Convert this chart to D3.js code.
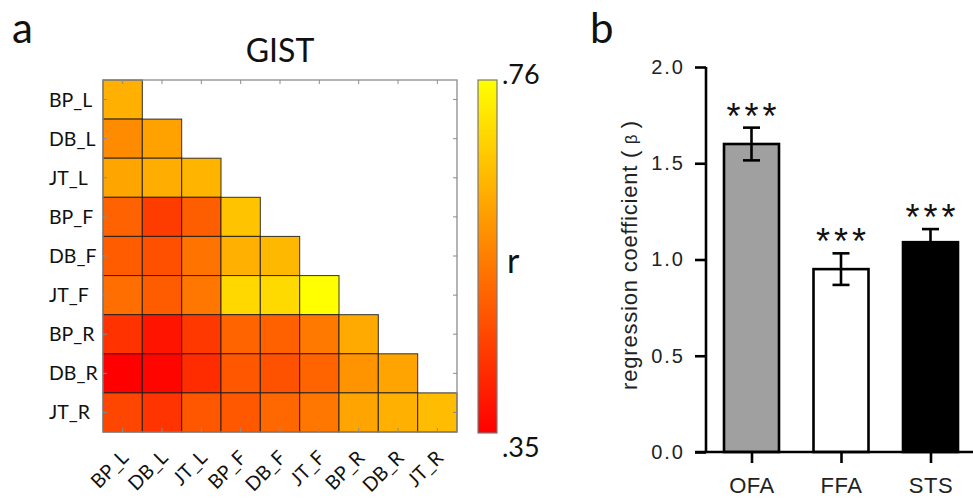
<!DOCTYPE html>
<html>
<head>
<meta charset="utf-8">
<script src="https://cdn.jsdelivr.net/npm/d3@7/dist/d3.min.js"></script>
<style>
  html, body { margin: 0; padding: 0; background: #fff; }
  svg { display: block; }
</style>
</head>
<body>
<svg id="fig" width="973" height="500"></svg>
<script>
// ---- Panel a: GIST similarity matrix (lower triangle, Pearson r) ----
const regions = ["BP_L", "DB_L", "JT_L", "BP_F", "DB_F", "JT_F", "BP_R", "DB_R", "JT_R"];
const gistRows = [
  [0.633],
  [0.575, 0.610],
  [0.615, 0.628, 0.639],
  [0.508, 0.446, 0.501, 0.664],
  [0.498, 0.479, 0.537, 0.633, 0.646],
  [0.527, 0.498, 0.540, 0.697, 0.701, 0.760],
  [0.430, 0.382, 0.440, 0.511, 0.504, 0.543, 0.623],
  [0.350, 0.358, 0.421, 0.488, 0.482, 0.511, 0.588, 0.614],
  [0.463, 0.434, 0.488, 0.491, 0.517, 0.540, 0.614, 0.633, 0.652]
];
const rRange = [0.35, 0.76];
const rTickLabels = [".35", ".76"];

// ---- Panel b: regression coefficients ----
const areas = ["OFA", "FFA", "STS"];
const beta = [1.60, 0.95, 1.09];
const betaSE = [0.085, 0.082, 0.068];
const betaStars = ["***", "***", "***"];
const betaTicks = [0, 0.5, 1.0, 1.5, 2.0];

const svg = d3.select("#fig");
const calib = "Lato, 'Open Sans', sans-serif";
const helv = "'Liberation Sans', Arial, sans-serif";

// ================= Panel a =================
const hm = { x0: 103, x1: 457, y0: 80, y1: 432 };
const x = d3.scaleBand().domain(regions).range([hm.x0, hm.x1]);
const y = d3.scaleBand().domain(regions).range([hm.y0, hm.y1]);
const color = d3.scaleSequential(d3.interpolateRgb("#ff0000", "#ffff00")).domain(rRange);

svg.append("text").attr("x", 12).attr("y", 43)
  .attr("font-family", calib).attr("font-size", 42).attr("fill", "#111").text("a");

svg.append("text").attr("x", (hm.x0 + hm.x1) / 2).attr("y", 62)
  .attr("text-anchor", "middle").attr("font-family", calib).attr("font-size", 32)
  .attr("fill", "#111").text("GIST");

const cells = [];
gistRows.forEach((row, i) => row.forEach((v, j) => cells.push({ r: regions[i], c: regions[j], v })));

const gA = svg.append("g");
gA.selectAll("rect.cell").data(cells).join("rect")
  .attr("class", "cell")
  .attr("x", d => x(d.c)).attr("y", d => y(d.r))
  .attr("width", x.bandwidth()).attr("height", y.bandwidth())
  .attr("fill", d => color(d.v))
  .attr("stroke", "#1a1a1a").attr("stroke-opacity", 0.8).attr("stroke-width", 1.1);

// frame with inward ticks at each cell centre
gA.append("rect").attr("x", hm.x0).attr("y", hm.y0)
  .attr("width", hm.x1 - hm.x0).attr("height", hm.y1 - hm.y0)
  .attr("fill", "none").attr("stroke", "#8c8c8c").attr("stroke-width", 1.3);
const tl = 4;
regions.forEach(n => {
  const cx = x(n) + x.bandwidth() / 2, cy = y(n) + y.bandwidth() / 2;
  [[cx, hm.y0, cx, hm.y0 + tl], [cx, hm.y1, cx, hm.y1 - tl],
   [hm.x0, cy, hm.x0 + tl, cy], [hm.x1, cy, hm.x1 - tl, cy]].forEach(s =>
    gA.append("line").attr("x1", s[0]).attr("y1", s[1]).attr("x2", s[2]).attr("y2", s[3])
      .attr("stroke", "#8c8c8c").attr("stroke-width", 1));
});

// row labels
gA.selectAll("text.row").data(regions).join("text")
  .attr("class", "row")
  .attr("x", 49).attr("y", d => y(d) + y.bandwidth() / 2)
  .attr("dy", "0.36em")
  .attr("font-family", calib).attr("font-size", 19.5).attr("fill", "#111")
  .text(d => d);

// column labels, rotated
gA.selectAll("text.col").data(regions).join("text")
  .attr("class", "col")
  .attr("text-anchor", "end")
  .attr("transform", d => `translate(${x(d) + x.bandwidth() / 2 + 7},${hm.y1 + 27}) rotate(-45)`)
  .attr("font-family", calib).attr("font-size", 19.5).attr("fill", "#111")
  .text(d => d);

// colour bar
const cb = { x: 478, w: 19, y0: 80, y1: 433 };
const defs = svg.append("defs");
const grad = defs.append("linearGradient").attr("id", "autumn")
  .attr("x1", 0).attr("y1", 1).attr("x2", 0).attr("y2", 0);
d3.range(0, 1.0001, 0.1).forEach(t => {
  const v = rRange[0] + t * (rRange[1] - rRange[0]);
  grad.append("stop").attr("offset", t).attr("stop-color", color(v));
});
svg.append("rect").attr("x", cb.x).attr("y", cb.y0).attr("width", cb.w).attr("height", cb.y1 - cb.y0)
  .attr("fill", "url(#autumn)").attr("stroke", "#7a7a7a").attr("stroke-width", 1.2);
svg.append("text").attr("x", 502).attr("y", 84)
  .attr("font-family", calib).attr("font-size", 27).attr("fill", "#111").text(rTickLabels[1]);
svg.append("text").attr("x", 502).attr("y", 457)
  .attr("font-family", calib).attr("font-size", 27).attr("fill", "#111").text(rTickLabels[0]);
svg.append("text").attr("x", 507).attr("y", 273)
  .attr("font-family", calib).attr("font-size", 34).attr("fill", "#111").text("r");

// ================= Panel b =================
svg.append("text").attr("x", 590).attr("y", 43)
  .attr("font-family", calib).attr("font-size", 42).attr("fill", "#111").text("b");

const yb = d3.scaleLinear().domain([0, 2]).range([452, 67]);
const xb = d3.scalePoint().domain(areas).range([751.5, 930.5]);
const barW = 55;
const axisX = 706;
const gB = svg.append("g");

const bars = areas.map((a, i) => ({ a, v: beta[i], e: betaSE[i], s: betaStars[i] }));
const fills = ["#a0a0a0", "#ffffff", "#000000"];

gB.selectAll("rect.bar").data(bars).join("rect")
  .attr("class", "bar")
  .attr("x", d => xb(d.a) - barW / 2).attr("y", d => yb(d.v))
  .attr("width", barW).attr("height", d => yb(0) - yb(d.v))
  .attr("fill", (d, i) => fills[i]).attr("stroke", "#000").attr("stroke-width", 2.6);

// error bars
const cap = 17;
bars.forEach(d => {
  const cx = xb(d.a);
  const g = gB.append("g").attr("stroke", "#000").attr("stroke-width", 2.6);
  g.append("line").attr("x1", cx).attr("x2", cx).attr("y1", yb(d.v + d.e)).attr("y2", yb(d.v - d.e));
  g.append("line").attr("x1", cx - cap / 2).attr("x2", cx + cap / 2).attr("y1", yb(d.v + d.e)).attr("y2", yb(d.v + d.e));
  g.append("line").attr("x1", cx - cap / 2).attr("x2", cx + cap / 2).attr("y1", yb(d.v - d.e)).attr("y2", yb(d.v - d.e));
});

// significance stars
gB.selectAll("text.star").data(bars).join("text")
  .attr("class", "star")
  .attr("x", d => xb(d.a) + 2).attr("y", d => yb(d.v + d.e) + 1)
  .attr("text-anchor", "middle")
  .attr("font-family", helv).attr("font-size", 36).attr("letter-spacing", 4)
  .attr("fill", "#111").text(d => d.s);

// y axis
const yAxis = d3.axisLeft(yb).tickValues(betaTicks).tickFormat(d3.format(".1f")).tickSize(11).tickPadding(10);
const gy = gB.append("g").attr("transform", `translate(${axisX},0)`).call(yAxis);
gy.select(".domain").attr("stroke", "#000").attr("stroke-width", 2.6).attr("d", `M0,${yb(2)}V${yb(0)}`);
gy.selectAll(".tick line").attr("stroke", "#000").attr("stroke-width", 2.6);
gy.selectAll(".tick text").attr("font-family", helv).attr("font-size", 20).attr("letter-spacing", 2)
  .attr("fill", "#222");

// x axis
const xAxis = d3.axisBottom(xb).tickSize(11).tickPadding(14);
const gx = gB.append("g").attr("transform", `translate(0,${yb(0)})`).call(xAxis);
gx.select(".domain").attr("stroke", "#000").attr("stroke-width", 2.6).attr("d", `M${axisX - 11},0H973`);
gx.selectAll(".tick line").attr("stroke", "#000").attr("stroke-width", 2.6);
gx.selectAll(".tick text").attr("font-family", helv).attr("font-size", 22).attr("letter-spacing", 0.5)
  .attr("fill", "#222");

// y axis title
const yt = gB.append("text")
  .attr("transform", `translate(637,255) rotate(-90)`)
  .attr("text-anchor", "middle")
  .attr("font-family", helv).attr("font-size", 22).attr("letter-spacing", 0.8).attr("fill", "#222");
yt.append("tspan").text("regression coefficient (");
yt.append("tspan").attr("font-size", 17).text(" β ");
yt.append("tspan").text(")");
</script>
</body>
</html>
